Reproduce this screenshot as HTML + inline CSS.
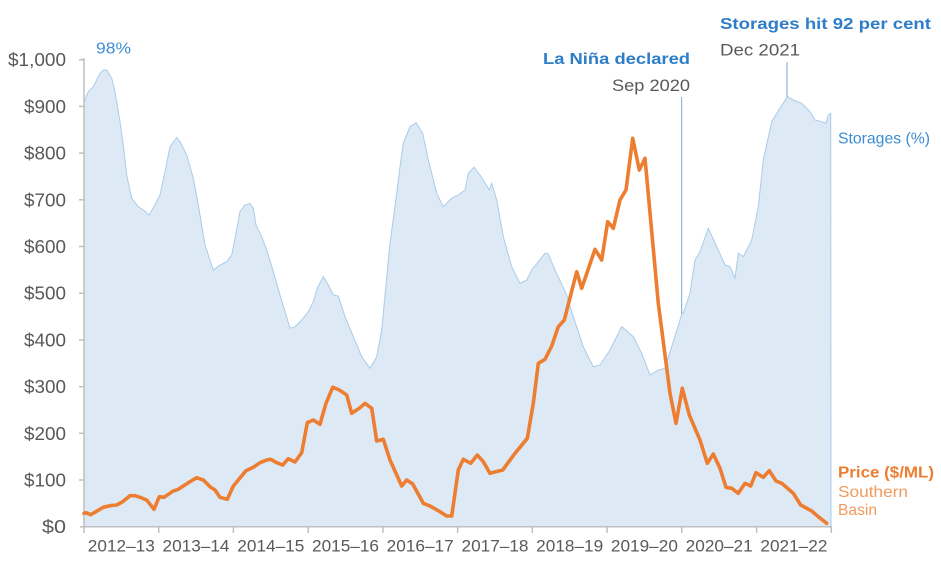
<!DOCTYPE html>
<html><head><meta charset="utf-8"><style>
html,body{margin:0;padding:0;background:#fff;}
svg{display:block;}
text{font-family:"Liberation Sans",sans-serif;}
</style></head><body>
<svg width="941" height="566" viewBox="0 0 941 566" xmlns="http://www.w3.org/2000/svg">
<!-- storage area -->
<path d="M84,526.7 L84,102 L88.3,91.7 L93.3,86.7 L100,73.3 L103.3,70 L106.7,70 L111.7,78.3 L115,91.7 L120,121.7 L123.3,145 L126.7,175 L131.7,198.3 L138.3,206.7 L145,211 L149,215 L155,205 L160,195 L165,171.7 L170,146.7 L176.7,137.7 L180,141.7 L186.7,155 L193.3,178.3 L198.3,205 L205,245 L213.3,270 L220,265 L226.7,261.7 L231.7,255 L235,238.3 L240,211.7 L245,205 L250,203.3 L253.3,208.3 L256,225 L261.7,236.7 L266.7,250 L273.3,271.7 L280,295 L290,328.3 L295,326.7 L301.7,320 L308.3,311.7 L313.3,301.7 L317.3,288.3 L323.3,276.7 L328.3,285 L333.3,295 L338.3,296 L345,316.7 L353.3,336.7 L361.7,356.7 L370,368.3 L376.7,356.7 L381.7,330 L390,243.3 L396.7,193.3 L400,166.7 L403.3,143.3 L410,126.7 L416,122.7 L422.7,133.3 L428.3,160 L436.7,193.3 L443.3,206.7 L451.7,198.3 L458.3,195 L465,190 L468.3,173.3 L474,167.3 L480,175 L489.3,190 L491.7,183.3 L496.7,200 L503.3,236.7 L511.7,266.7 L520,283.3 L526.7,280 L531.7,270 L538.3,261.7 L545,253.3 L548.3,254 L555,270 L566.7,295 L573.3,316.7 L583.3,346.7 L593.3,366.7 L600,365 L610,350 L621.7,326.7 L633.3,336.7 L641.7,353.3 L650,375 L658.3,370 L665,368.3 L671.7,346.7 L680,320 L681.7,314 L683.3,313.3 L690,293.3 L695,260 L700,251.7 L708.3,228.3 L716.7,246.7 L725,265 L730,266.7 L735,278.3 L738.3,253.3 L743.3,256.7 L751.7,240 L758.3,206.7 L763.3,160 L771.7,121.7 L780,108.3 L787.3,96.7 L793.3,100 L801.7,103.3 L810,111.7 L815,120 L821.7,121.7 L826,123.3 L828.3,115 L830.7,113.3 L831,526.7 Z" fill="#DDEAF6" stroke="#A9CBEA" stroke-width="1"/>
<!-- annotation lines -->
<line x1="681.7" y1="97" x2="681.7" y2="314" stroke="#6FA8DC" stroke-width="1"/>
<line x1="787" y1="62" x2="787" y2="97" stroke="#6FA8DC" stroke-width="1"/>
<!-- axes -->
<g stroke="#BFBFBF" stroke-width="1.5" fill="none">
<line x1="84" y1="58" x2="84" y2="527"/>
<line x1="80" y1="526.7" x2="832" y2="526.7"/>
<line x1="79" y1="59.7" x2="84" y2="59.7"/>
<line x1="79" y1="106.4" x2="84" y2="106.4"/>
<line x1="79" y1="153.1" x2="84" y2="153.1"/>
<line x1="79" y1="199.8" x2="84" y2="199.8"/>
<line x1="79" y1="246.5" x2="84" y2="246.5"/>
<line x1="79" y1="293.2" x2="84" y2="293.2"/>
<line x1="79" y1="339.9" x2="84" y2="339.9"/>
<line x1="79" y1="386.6" x2="84" y2="386.6"/>
<line x1="79" y1="433.3" x2="84" y2="433.3"/>
<line x1="79" y1="480" x2="84" y2="480"/>
<line x1="84" y1="526.7" x2="84" y2="533"/>
<line x1="158.7" y1="526.7" x2="158.7" y2="533"/>
<line x1="233.4" y1="526.7" x2="233.4" y2="533"/>
<line x1="308.2" y1="526.7" x2="308.2" y2="533"/>
<line x1="382.9" y1="526.7" x2="382.9" y2="533"/>
<line x1="457.6" y1="526.7" x2="457.6" y2="533"/>
<line x1="532.4" y1="526.7" x2="532.4" y2="533"/>
<line x1="607.1" y1="526.7" x2="607.1" y2="533"/>
<line x1="681.8" y1="526.7" x2="681.8" y2="533"/>
<line x1="756.6" y1="526.7" x2="756.6" y2="533"/>
<line x1="831.3" y1="526.7" x2="831.3" y2="533"/>
</g>
<!-- price line -->
<polyline fill="none" stroke="#ED7D31" stroke-width="3.6" stroke-linejoin="round" stroke-linecap="round" points="84,513.3 86,512.7 90.7,514.7 103.3,507.3 110,505.7 116.7,505 122.7,501.7 130,495.7 135,495.7 140,497.3 146.7,500 154,509.3 159.3,496.7 164,497.3 172.7,491.3 178.3,489.3 188.3,482.7 196.7,477.7 203.3,480 210,486.7 215,490 220,497.3 227.3,499.3 233.3,486 246,470.7 253.3,467.3 260,462.7 266.7,460 270.7,459.3 276.7,462.7 282.7,465 288.3,458.7 295,462 301.7,452.7 307.3,422.7 313.3,420 320,424.3 326,403.3 332.7,387.3 339.3,390 346.7,395 351.7,413.3 359.3,408.3 365,403.3 371.7,408.3 376.7,441 383.3,439.3 390,460 401.7,486 406.7,480 412.7,484 423.3,503.3 430,506 440,511.7 446.7,516 451.7,516 458.3,470 463.3,459.3 470.7,463.3 477.3,455 483.3,461.7 490,473.3 502.7,470 515,453.3 527.3,438.3 533.3,403.3 538.3,363.3 545,359.3 551.7,346 558.3,326.7 564.3,320 576.7,271.7 581.7,288.3 595,249.3 601.7,260 607.7,221.7 613.3,228.3 620,200 626,190 632.7,138.3 639.3,170 645,158.3 658.3,303.3 670,393.3 676,423.3 682.3,388.3 689.3,415 700,440 707.3,463.3 713.3,454 720,468.3 726,487.3 731.7,488.3 738.3,493.3 745,483.3 750.7,486 756,472.7 763.3,477.3 769.3,470.7 776,481 781.7,483.3 793.3,493.3 800.7,505 811.7,511 818.3,516.7 826.7,523.3"/>
<!-- y labels -->
<g fill="#595959" font-size="18" text-anchor="end">
<text x="66" y="66.2" textLength="58" lengthAdjust="spacingAndGlyphs">$1,000</text>
<text x="66" y="112.9" textLength="42" lengthAdjust="spacingAndGlyphs">$900</text>
<text x="66" y="159.6" textLength="42" lengthAdjust="spacingAndGlyphs">$800</text>
<text x="66" y="206.3" textLength="42" lengthAdjust="spacingAndGlyphs">$700</text>
<text x="66" y="253" textLength="42" lengthAdjust="spacingAndGlyphs">$600</text>
<text x="66" y="299.7" textLength="42" lengthAdjust="spacingAndGlyphs">$500</text>
<text x="66" y="346.4" textLength="42" lengthAdjust="spacingAndGlyphs">$400</text>
<text x="66" y="393.1" textLength="42" lengthAdjust="spacingAndGlyphs">$300</text>
<text x="66" y="439.8" textLength="42" lengthAdjust="spacingAndGlyphs">$200</text>
<text x="66" y="486.5" textLength="42" lengthAdjust="spacingAndGlyphs">$100</text>
<text x="66" y="533.2" textLength="24" lengthAdjust="spacingAndGlyphs">$0</text>
</g>
<!-- x labels -->
<g fill="#595959" font-size="17" text-anchor="middle">
<text x="121.3" y="551.5" textLength="67" lengthAdjust="spacingAndGlyphs">2012–13</text>
<text x="196" y="551.5" textLength="67" lengthAdjust="spacingAndGlyphs">2013–14</text>
<text x="270.8" y="551.5" textLength="67" lengthAdjust="spacingAndGlyphs">2014–15</text>
<text x="345.5" y="551.5" textLength="67" lengthAdjust="spacingAndGlyphs">2015–16</text>
<text x="420.2" y="551.5" textLength="67" lengthAdjust="spacingAndGlyphs">2016–17</text>
<text x="495" y="551.5" textLength="67" lengthAdjust="spacingAndGlyphs">2017–18</text>
<text x="569.7" y="551.5" textLength="67" lengthAdjust="spacingAndGlyphs">2018–19</text>
<text x="644.4" y="551.5" textLength="67" lengthAdjust="spacingAndGlyphs">2019–20</text>
<text x="719.2" y="551.5" textLength="67" lengthAdjust="spacingAndGlyphs">2020–21</text>
<text x="793.9" y="551.5" textLength="67" lengthAdjust="spacingAndGlyphs">2021–22</text>
</g>
<!-- annotations -->
<text x="96" y="53.5" font-size="16" fill="#3C8DD5" textLength="35" lengthAdjust="spacingAndGlyphs">98%</text>
<text x="690" y="64" font-size="16" font-weight="bold" fill="#2E7DC8" text-anchor="end" textLength="147" lengthAdjust="spacingAndGlyphs">La Niña declared</text>
<text x="690" y="91" font-size="17" fill="#595959" text-anchor="end" textLength="78" lengthAdjust="spacingAndGlyphs">Sep 2020</text>
<text x="720" y="29" font-size="16" font-weight="bold" fill="#2E7DC8" textLength="211" lengthAdjust="spacingAndGlyphs">Storages hit 92 per cent</text>
<text x="720" y="55.5" font-size="17" fill="#595959" textLength="80" lengthAdjust="spacingAndGlyphs">Dec 2021</text>
<text x="838" y="143.5" font-size="16" fill="#3C8DD5" textLength="92" lengthAdjust="spacingAndGlyphs">Storages (%)</text>
<text x="838" y="477.5" font-size="16" font-weight="bold" fill="#ED7D31" textLength="96" lengthAdjust="spacingAndGlyphs">Price ($/ML)</text>
<text x="838" y="497" font-size="16" fill="#F19A5C" textLength="70" lengthAdjust="spacingAndGlyphs">Southern</text>
<text x="838" y="515" font-size="16" fill="#F19A5C" textLength="39" lengthAdjust="spacingAndGlyphs">Basin</text>
</svg>
</body></html>
